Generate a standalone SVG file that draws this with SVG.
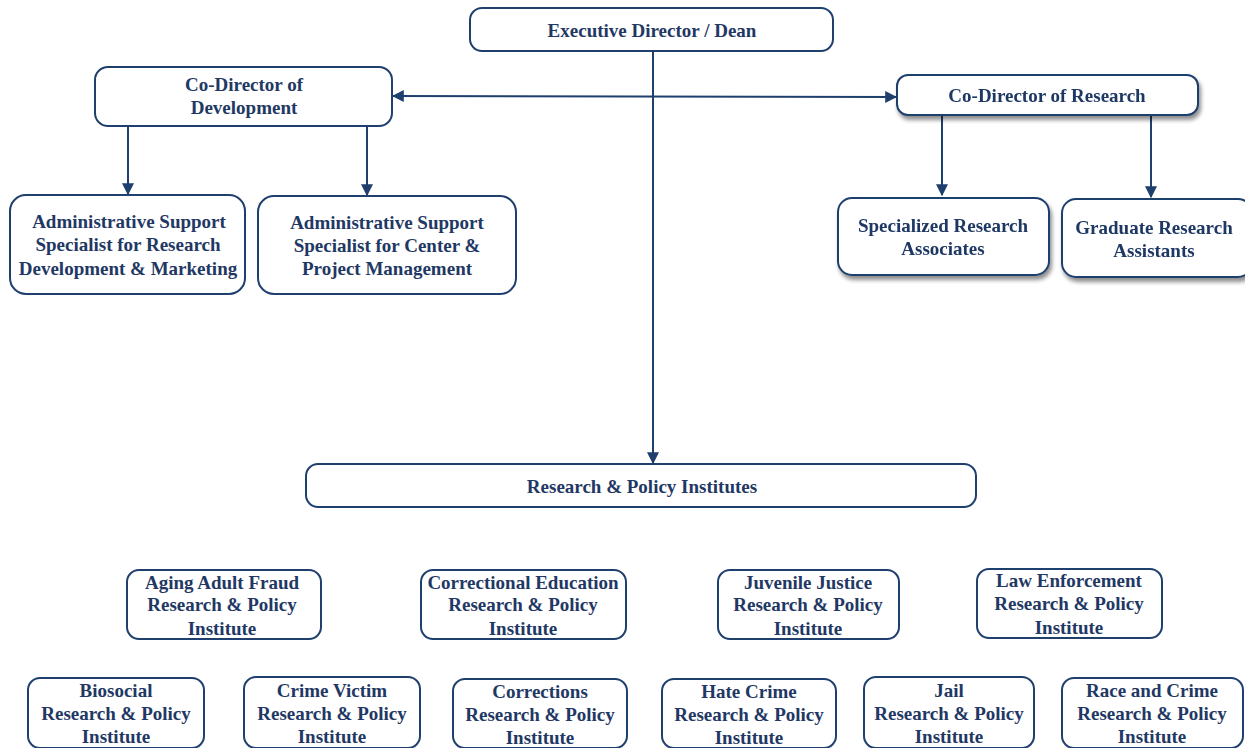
<svg xmlns="http://www.w3.org/2000/svg" width="1245" height="748" viewBox="0 0 1245 748">
<defs>
<style>
.box{fill:#fff;stroke:#1f3f6e;stroke-width:2}
.t{font-family:'Liberation Serif','DejaVu Serif',serif;font-weight:bold;font-size:19px;fill:#1f3864;text-anchor:middle}
.c{stroke:#1f3f6e;stroke-width:2;fill:none}
</style>
<marker id="ah2" viewBox="0 0 10 10" refX="9" refY="5" markerWidth="12" markerHeight="12" orient="auto-start-reverse" markerUnits="userSpaceOnUse">
<path d="M0,0 L10,5 L0,10 z" fill="#1f3f6e"/>
</marker>
<filter id="sh" x="-10%" y="-20%" width="125%" height="160%">
<feGaussianBlur in="SourceAlpha" stdDeviation="2"/>
<feOffset dx="2" dy="4"/>
<feComponentTransfer><feFuncA type="linear" slope="0.45"/></feComponentTransfer>
<feMerge><feMergeNode/><feMergeNode in="SourceGraphic"/></feMerge>
</filter>
</defs>
<rect width="1245" height="748" fill="#fff"/>
<g id="connectors">
<line class="c" x1="653" y1="51" x2="653" y2="463" marker-end="url(#ah2)"/>
<line class="c" x1="393" y1="96" x2="896" y2="97" marker-start="url(#ah2)" marker-end="url(#ah2)"/>
<line class="c" x1="128" y1="126" x2="128" y2="194" marker-end="url(#ah2)"/>
<line class="c" x1="367" y1="126" x2="367" y2="195" marker-end="url(#ah2)"/>
<line class="c" x1="942" y1="116" x2="942" y2="195" marker-end="url(#ah2)"/>
<line class="c" x1="1151" y1="116" x2="1151" y2="197" marker-end="url(#ah2)"/>
</g>
<g id="exec"><rect class="box" x="470" y="8" width="363" height="43" rx="12"/><text class="t" x="652" y="37">Executive Director / Dean</text></g>
<g id="codev"><rect class="box" x="95" y="67" width="297" height="59" rx="13"/><text class="t" x="244" y="91">Co-Director of</text><text class="t" x="244" y="114">Development</text></g>
<g id="cores" filter="url(#sh)"><rect class="box" x="897" y="75" width="301" height="40" rx="11"/><text class="t" x="1047" y="102">Co-Director of Research</text></g>
<g id="adm1"><rect class="box" x="10" y="195" width="235" height="99" rx="16"/><text class="t" x="129" y="228">Administrative Support</text><text class="t" x="128" y="251">Specialist for Research</text><text class="t" x="128" y="275">Development &amp; Marketing</text></g>
<g id="adm2"><rect class="box" x="258" y="196" width="258" height="98" rx="16"/><text class="t" x="387" y="229">Administrative Support</text><text class="t" x="387" y="252">Specialist for Center &amp;</text><text class="t" x="387" y="275">Project Management</text></g>
<g id="sra" filter="url(#sh)"><rect class="box" x="838" y="198" width="211" height="77" rx="14"/><text class="t" x="943" y="232">Specialized Research</text><text class="t" x="943" y="255">Associates</text></g>
<g id="gra" filter="url(#sh)"><rect class="box" x="1062" y="199" width="190" height="78" rx="14"/><text class="t" x="1154" y="234">Graduate Research</text><text class="t" x="1154" y="257">Assistants</text></g>
<g id="rpi"><rect class="box" x="306" y="464" width="670" height="43" rx="12"/><text class="t" x="642" y="493">Research &amp; Policy Institutes</text></g>
<g id="aging"><rect class="box" x="127" y="570" width="194" height="69" rx="12"/><text class="t" x="222" y="589">Aging Adult Fraud</text><text class="t" x="222" y="611">Research &amp; Policy</text><text class="t" x="222" y="635">Institute</text></g>
<g id="corred"><rect class="box" x="421" y="570" width="205" height="69" rx="12"/><text class="t" x="523" y="589">Correctional Education</text><text class="t" x="523" y="611">Research &amp; Policy</text><text class="t" x="523" y="635">Institute</text></g>
<g id="juv"><rect class="box" x="718" y="570" width="181" height="69" rx="12"/><text class="t" x="808" y="589">Juvenile Justice</text><text class="t" x="808" y="611">Research &amp; Policy</text><text class="t" x="808" y="635">Institute</text></g>
<g id="law"><rect class="box" x="977" y="569" width="185" height="69" rx="12"/><text class="t" x="1069" y="587">Law Enforcement</text><text class="t" x="1069" y="610">Research &amp; Policy</text><text class="t" x="1069" y="634">Institute</text></g>
<g id="bio"><rect class="box" x="28" y="678" width="176" height="70" rx="12"/><text class="t" x="116" y="697">Biosocial</text><text class="t" x="116" y="720">Research &amp; Policy</text><text class="t" x="116" y="743">Institute</text></g>
<g id="victim"><rect class="box" x="244" y="677" width="176" height="71" rx="12"/><text class="t" x="332" y="697">Crime Victim</text><text class="t" x="332" y="720">Research &amp; Policy</text><text class="t" x="332" y="743">Institute</text></g>
<g id="corrections"><rect class="box" x="453" y="679" width="174" height="69" rx="12"/><text class="t" x="540" y="698">Corrections</text><text class="t" x="540" y="721">Research &amp; Policy</text><text class="t" x="540" y="744">Institute</text></g>
<g id="hate"><rect class="box" x="662" y="679" width="174" height="69" rx="12"/><text class="t" x="749" y="698">Hate Crime</text><text class="t" x="749" y="721">Research &amp; Policy</text><text class="t" x="749" y="744">Institute</text></g>
<g id="jail"><rect class="box" x="864" y="677" width="170" height="71" rx="12"/><text class="t" x="949" y="697">Jail</text><text class="t" x="949" y="720">Research &amp; Policy</text><text class="t" x="949" y="743">Institute</text></g>
<g id="race"><rect class="box" x="1062" y="678" width="181" height="70" rx="12"/><text class="t" x="1152" y="697">Race and Crime</text><text class="t" x="1152" y="720">Research &amp; Policy</text><text class="t" x="1152" y="743">Institute</text></g>
</svg>
